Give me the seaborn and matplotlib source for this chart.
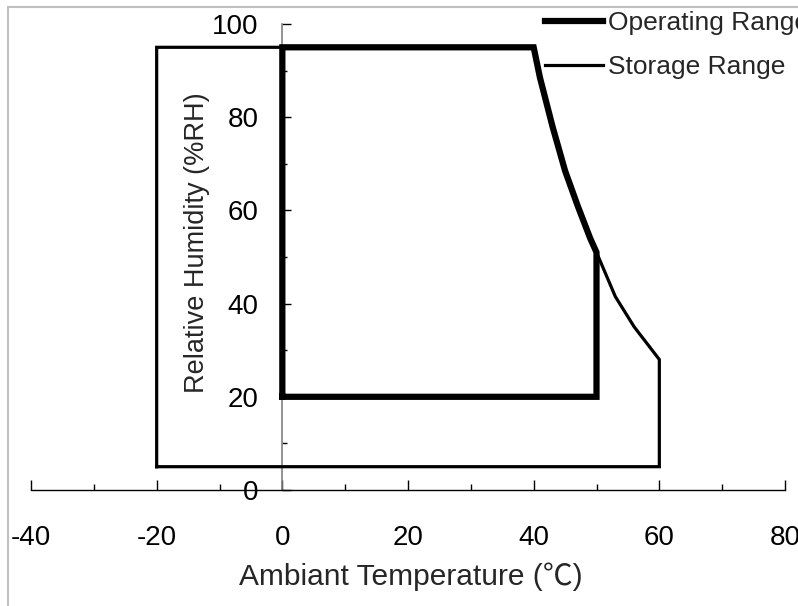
import numpy as np
import pandas as pd
import matplotlib
matplotlib.use('Agg')
import matplotlib.pyplot as plt
import seaborn as sns
from matplotlib.patches import Rectangle
from matplotlib.ticker import MultipleLocator

# Operating range outline (temperature degC, relative humidity %RH)
operating_temp = [0, 0, 40, 41, 43, 45, 47, 49, 50, 50, 0]
operating_rh = [20, 95, 95, 88.5, 78, 68.5, 61, 54, 51, 20, 20]

# Storage range outline
storage_temp = [-20, -20, 40, 41, 43, 45, 47, 49, 50, 53, 56, 60, 60, -20]
storage_rh = [5, 95, 95, 88.5, 78, 68.5, 61, 54, 51, 41.5, 35, 28, 5, 5]

x_ticks = [-40, -20, 0, 20, 40, 60, 80]
y_ticks = [0, 20, 40, 60, 80, 100]

sns.set_style('white')
plt.rcParams['font.family'] = ['Liberation Sans', 'Noto Sans CJK JP', 'DejaVu Sans']
plt.rcParams['axes.unicode_minus'] = False

fig = plt.figure(figsize=(7.98, 6.06), dpi=100)
ax = fig.add_axes([31 / 798, 116 / 606, 754 / 798, 466 / 606])

op = pd.DataFrame({'temp': operating_temp, 'rh': operating_rh})
st = pd.DataFrame({'temp': storage_temp, 'rh': storage_rh})

sns.lineplot(data=op, x='temp', y='rh', sort=False, estimator=None, ax=ax,
             color='black', linewidth=4.5, label='Operating Range',
             solid_joinstyle='miter', solid_capstyle='projecting', zorder=3)
sns.lineplot(data=st, x='temp', y='rh', sort=False, estimator=None, ax=ax,
             color='black', linewidth=2.3, label='Storage Range',
             solid_joinstyle='miter', solid_capstyle='projecting', zorder=3)

ax.set_xlim(-40, 80)
ax.set_ylim(0, 100)

for s in ['top', 'right']:
    ax.spines[s].set_visible(False)
ax.spines['left'].set_position(('data', 0))
ax.spines['bottom'].set_position(('data', 0))
ax.spines['left'].set_color('#808080')
ax.spines['left'].set_linewidth(1.2)
ax.spines['bottom'].set_color('black')
ax.spines['bottom'].set_linewidth(1.0)

ax.set_xticks(x_ticks)
ax.set_yticks(y_ticks)
ax.xaxis.set_minor_locator(MultipleLocator(10))
ax.yaxis.set_minor_locator(MultipleLocator(10))
ax.tick_params(axis='x', which='major', direction='in', length=7, width=1,
               labelsize=20, pad=25, colors='black', bottom=True)
ax.tick_params(axis='x', which='minor', direction='in', length=4, width=1,
               bottom=True, colors='black')
ax.tick_params(axis='y', which='major', direction='in', length=6.5, width=1,
               labelsize=20, pad=17, colors='black', left=True)
ax.tick_params(axis='y', which='minor', direction='in', length=3.6, width=1,
               left=True, colors='black')

ax.set_xlabel('Ambiant Temperature (℃)', fontsize=21.5)
ax.xaxis.set_label_coords(0.504, -0.155)
ax.set_ylabel('Relative Humidity (%RH)', fontsize=19.5)
ax.yaxis.set_label_coords(0.2376, 0.53)

ax.legend(loc='upper left', bbox_to_anchor=(545 / 798, 1 - 11 / 606),
          bbox_transform=fig.transFigure, frameon=False, fontsize=19,
          handlelength=2.2, handletextpad=0.2, labelspacing=0.75,
          borderpad=0, borderaxespad=0)

# light grey chart-area border (cut off at the right and bottom)
fig.patches.append(Rectangle((8 / 798, -0.2), 1.2, 1.2 - 7 / 606,
                             transform=fig.transFigure, fill=False,
                             edgecolor='#c0c0c0', linewidth=1.5))

fig.savefig('out.png', dpi=100)
